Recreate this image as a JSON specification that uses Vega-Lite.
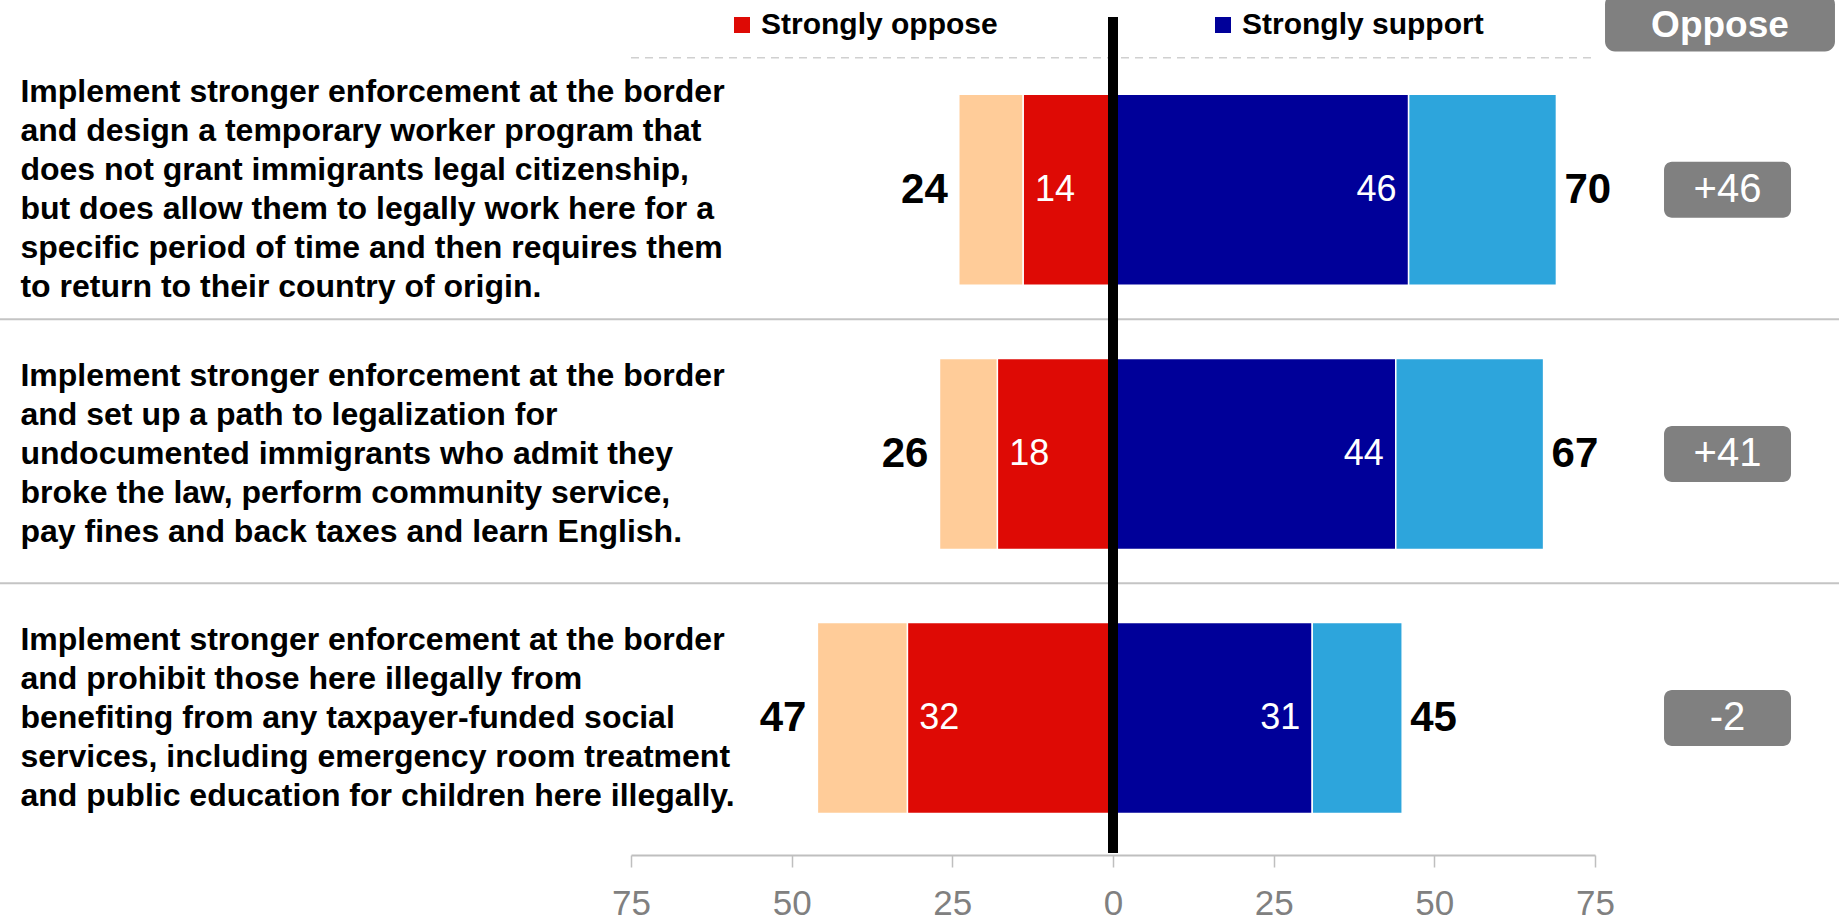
{
  "$schema": "https://vega.github.io/schema/vega-lite/v6.json",
  "width": 964,
  "height": 855,
  "autosize": {"type": "none"},
  "padding": {"left": 631, "right": 244, "top": 0, "bottom": 67},
  "background": "white",
  "config": {
    "view": {"stroke": null},
    "font": "Liberation Sans",
    "axisY": {"disable": true}
  },
  "datasets": {
    "questions": [
      {"row": 1, "question": "Implement stronger enforcement at the border\nand design a temporary worker program that\ndoes not grant immigrants legal citizenship,\nbut does allow them to legally work here for a\nspecific period of time and then requires them\nto return to their country of origin.", "net": "+46"},
      {"row": 2, "question": "Implement stronger enforcement at the border\nand set up a path to legalization for\nundocumented immigrants who admit they\nbroke the law, perform community service,\npay fines and back taxes and learn English.", "net": "+41"},
      {"row": 3, "question": "Implement stronger enforcement at the border\nand prohibit those here illegally from\nbenefiting from any taxpayer-funded social\nservices, including emergency room treatment\nand public education for children here illegally.", "net": "-2"}
    ],
    "segments": [
      {"row": 1, "cat": "Strongly oppose", "side": "oppose", "value": -14, "pct": 14, "total": 24},
      {"row": 1, "cat": "Somewhat oppose", "side": "oppose", "value": -10, "pct": 10, "total": 24},
      {"row": 1, "cat": "Strongly support", "side": "support", "value": 46, "pct": 46, "total": 70},
      {"row": 1, "cat": "Somewhat support", "side": "support", "value": 23, "pct": 23, "total": 70},
      {"row": 2, "cat": "Strongly oppose", "side": "oppose", "value": -18, "pct": 18, "total": 26},
      {"row": 2, "cat": "Somewhat oppose", "side": "oppose", "value": -9, "pct": 9, "total": 26},
      {"row": 2, "cat": "Strongly support", "side": "support", "value": 44, "pct": 44, "total": 67},
      {"row": 2, "cat": "Somewhat support", "side": "support", "value": 23, "pct": 23, "total": 67},
      {"row": 3, "cat": "Strongly oppose", "side": "oppose", "value": -32, "pct": 32, "total": 47},
      {"row": 3, "cat": "Somewhat oppose", "side": "oppose", "value": -14, "pct": 14, "total": 47},
      {"row": 3, "cat": "Strongly support", "side": "support", "value": 31, "pct": 31, "total": 45},
      {"row": 3, "cat": "Somewhat support", "side": "support", "value": 14, "pct": 14, "total": 45}
    ],
    "header": [{"label": "Oppose"}]
  },
  "data": {"values": [{}]},
  "layer": [
    {
      "mark": {"type": "rule", "color": "#c4c4c4", "strokeWidth": 2},
      "encoding": {
        "x": {"datum": -174, "type": "quantitative", "title": null},
        "x2": {"datum": 114},
        "y": {"datum": 1.49, "type": "quantitative", "title": null}
      }
    },
    {
      "mark": {"type": "rule", "color": "#c4c4c4", "strokeWidth": 2},
      "encoding": {
        "x": {"datum": -174, "type": "quantitative", "title": null},
        "x2": {"datum": 114},
        "y": {"datum": 2.49, "type": "quantitative", "title": null}
      }
    },
    {
      "mark": {"type": "rule", "color": "#d0d0d0", "strokeWidth": 1.5, "strokeDash": [8, 6]},
      "encoding": {
        "x": {"datum": -75, "type": "quantitative", "title": null},
        "x2": {"datum": 75},
        "y": {"datum": 0.5, "type": "quantitative", "title": null}
      }
    },
    {
      "data": {"name": "segments"},
      "mark": {"type": "bar", "orient": "horizontal", "size": 191, "stroke": "white", "strokeWidth": 1.5},
      "encoding": {
        "x": {
          "field": "value", "type": "quantitative", "stack": "zero", "title": null,
          "scale": {"domain": [-75, 75], "nice": false, "zero": false},
          "axis": {
            "values": [-75, -50, -25, 0, 25, 50, 75],
            "labelExpr": "abs(datum.value)",
            "grid": false,
            "domainColor": "#bfbfbf", "domainWidth": 2,
            "tickColor": "#bfbfbf", "tickWidth": 1.5, "tickSize": 12,
            "labelFontSize": 35, "labelColor": "#808080", "labelPadding": 19,
            "labelFont": "Liberation Sans", "labelFlush": false, "labelOverlap": false,
            "title": null
          }
        },
        "y": {
          "field": "row", "type": "quantitative", "title": null,
          "scale": {"domain": [0.3, 3.5], "reverse": true, "nice": false, "zero": false}
        },
        "color": {
          "field": "cat", "type": "nominal",
          "scale": {
            "domain": ["Somewhat oppose", "Strongly oppose", "Strongly support", "Somewhat support"],
            "range": ["#FFCC99", "#DE0A05", "#000099", "#2DA5DC"]
          },
          "legend": {
            "title": null, "orient": "none", "legendX": 96, "legendY": 10,
            "direction": "horizontal",
            "values": ["Strongly oppose", "Strongly support"],
            "symbolType": "square", "symbolSize": 256, "symbolStrokeWidth": 0, "symbolOpacity": 1,
            "labelFontSize": 30, "labelFontWeight": "bold", "labelColor": "#000000",
            "labelFont": "Liberation Sans", "labelOffset": 4, "labelLimit": 500,
            "columnPadding": 210, "padding": 0
          }
        },
        "order": {"field": "cat", "sort": "descending"}
      }
    },
    {
      "mark": {"type": "rule", "color": "#000000", "strokeWidth": 10},
      "encoding": {
        "x": {"datum": 0, "type": "quantitative", "title": null},
        "y": {"datum": 0.345, "type": "quantitative", "title": null},
        "y2": {"datum": 3.511}
      }
    },
    {
      "data": {"name": "questions"},
      "transform": [{"filter": "datum.row === 1"}],
      "mark": {"type": "text", "align": "left", "baseline": "middle", "dy": -97.5, "fontSize": 32, "fontWeight": "bold", "lineHeight": 39, "lineBreak": "\n", "color": "#000000"},
      "encoding": {
        "x": {"datum": -170, "type": "quantitative", "title": null},
        "y": {"field": "row", "type": "quantitative", "title": null},
        "text": {"field": "question"}
      }
    },
    {
      "data": {"name": "questions"},
      "transform": [{"filter": "datum.row !== 1"}],
      "mark": {"type": "text", "align": "left", "baseline": "middle", "dy": -78, "fontSize": 32, "fontWeight": "bold", "lineHeight": 39, "lineBreak": "\n", "color": "#000000"},
      "encoding": {
        "x": {"datum": -170, "type": "quantitative", "title": null},
        "y": {"field": "row", "type": "quantitative", "title": null},
        "text": {"field": "question"}
      }
    },
    {
      "data": {"name": "segments"},
      "transform": [{"filter": "datum.cat === 'Strongly oppose'"}],
      "mark": {"type": "text", "align": "left", "baseline": "middle", "dx": 12, "fontSize": 36, "color": "white"},
      "encoding": {
        "x": {"field": "value", "type": "quantitative", "stack": null, "title": null},
        "y": {"field": "row", "type": "quantitative", "title": null},
        "text": {"field": "pct"}
      }
    },
    {
      "data": {"name": "segments"},
      "transform": [{"filter": "datum.cat === 'Strongly support'"}],
      "mark": {"type": "text", "align": "right", "baseline": "middle", "dx": -12, "fontSize": 36, "color": "white"},
      "encoding": {
        "x": {"field": "value", "type": "quantitative", "stack": null, "title": null},
        "y": {"field": "row", "type": "quantitative", "title": null},
        "text": {"field": "pct"}
      }
    },
    {
      "data": {"name": "segments"},
      "transform": [{"filter": "datum.side === 'oppose'"}],
      "mark": {"type": "text", "align": "right", "baseline": "middle", "dx": -11, "fontSize": 42, "fontWeight": "bold", "color": "#000000"},
      "encoding": {
        "x": {"aggregate": "sum", "field": "value", "type": "quantitative", "stack": null, "title": null},
        "y": {"field": "row", "type": "quantitative", "title": null},
        "text": {"field": "total"}
      }
    },
    {
      "data": {"name": "segments"},
      "transform": [{"filter": "datum.side === 'support'"}],
      "mark": {"type": "text", "align": "left", "baseline": "middle", "dx": 8, "fontSize": 42, "fontWeight": "bold", "color": "#000000"},
      "encoding": {
        "x": {"aggregate": "sum", "field": "value", "type": "quantitative", "stack": null, "title": null},
        "y": {"field": "row", "type": "quantitative", "title": null},
        "text": {"field": "total"}
      }
    },
    {
      "data": {"name": "questions"},
      "mark": {"type": "bar", "orient": "horizontal", "size": 56, "cornerRadius": 8, "color": "#808080"},
      "encoding": {
        "x": {"datum": 85.74, "type": "quantitative", "title": null},
        "x2": {"datum": 105.5},
        "y": {"field": "row", "type": "quantitative", "title": null}
      }
    },
    {
      "data": {"name": "questions"},
      "mark": {"type": "text", "align": "center", "baseline": "middle", "fontSize": 40, "color": "white"},
      "encoding": {
        "x": {"datum": 95.62, "type": "quantitative", "title": null},
        "y": {"field": "row", "type": "quantitative", "title": null},
        "text": {"field": "net"}
      }
    },
    {
      "data": {"name": "header"},
      "mark": {"type": "rect", "cornerRadius": 10, "color": "#808080"},
      "encoding": {
        "x": {"datum": 76.56, "type": "quantitative", "title": null},
        "x2": {"datum": 112.34},
        "y": {"datum": 0.259, "type": "quantitative", "title": null},
        "y2": {"datum": 0.476}
      }
    },
    {
      "data": {"name": "header"},
      "mark": {"type": "text", "align": "center", "baseline": "middle", "fontSize": 37, "fontWeight": "bold", "color": "white"},
      "encoding": {
        "x": {"datum": 94.45, "type": "quantitative", "title": null},
        "y": {"datum": 0.38, "type": "quantitative", "title": null},
        "text": {"field": "label"}
      }
    }
  ]
}
